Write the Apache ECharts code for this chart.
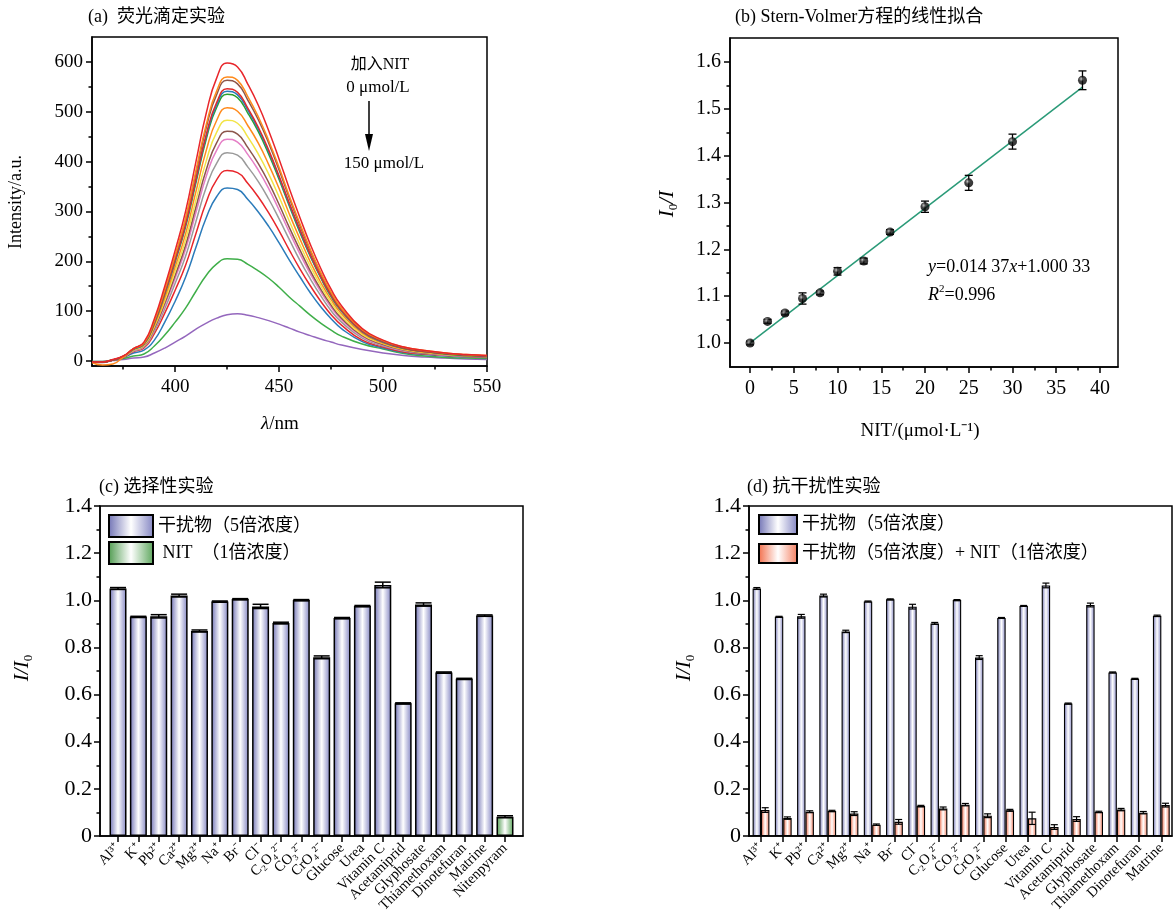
<!DOCTYPE html>
<html><head><meta charset="utf-8">
<script src="https://cdn.jsdelivr.net/npm/echarts@6/dist/echarts.min.js"></script>
<style>html,body{margin:0;padding:0;background:#fff}#c{width:1173px;height:911px}</style>
</head><body><div id="c"></div>
<script>
// ---------- Data ----------
const wavelengths = [360,365,370,375,380,385,390,395,400,405,410,415,420,425,430,435,440,445,450,455,460,465,470,475,480,490,500,510,520,530,540,550];
const spec01 = [-2,-2,3,10,25,38,85,150,222,300,400,498,568,598,590,555,513,462,405,345,288,234,186,144,111,65,42,28,21,16,13,11];
const spec02 = [-3,-8,-6,8,25,36,81,143,212,286,382,475,542,570,563,530,490,442,388,330,276,224,178,138,106,63,41,28,21,16,13,11];
const spec03 = [-2,-3,2,9,25,36,80,141,209,283,377,469,535,563,556,523,484,437,383,326,272,221,176,136,105,62,40,27,20,15,12,10];
const spec04 = [-2,-2,2,9,25,35,78,137,203,274,365,455,519,546,539,507,469,423,371,316,264,214,170,132,102,60,39,26,19,15,12,10];
const spec05 = [-2,-2,2,9,24,34,77,136,201,272,362,451,514,541,534,503,465,420,368,313,261,212,169,131,101,59,38,26,19,15,12,10];
const spec06 = [-2,-2,2,9,24,34,76,134,199,269,358,446,509,535,528,497,460,415,364,310,258,210,167,129,100,59,38,25,19,14,11,9];
const spec07 = [-2,-2,2,9,23,33,72,127,189,255,340,423,483,508,501,472,437,394,346,294,245,199,158,123,95,56,36,24,18,14,11,9];
const spec08 = [-2,-2,2,8,22,31,69,121,180,243,323,402,459,483,477,449,415,375,329,280,233,190,151,117,90,53,35,23,17,13,11,9];
const spec09 = [-2,-2,2,8,22,30,66,116,172,232,309,384,438,461,455,428,396,358,314,267,223,181,144,112,86,51,33,22,16,13,10,8];
const spec10 = [-2,-2,2,8,21,29,64,112,166,224,298,371,423,445,439,414,383,346,303,258,215,175,139,108,83,49,32,21,16,12,10,8];
const spec11 = [-2,-2,2,8,20,28,60,105,156,210,280,349,397,418,413,389,360,325,285,243,202,165,131,101,78,46,30,20,15,12,9,8];
const spec12 = [-2,-2,2,7,19,26,55,96,142,192,256,319,364,382,378,356,329,297,261,222,185,151,120,93,72,42,28,18,14,11,9,7];
const spec13 = [-2,-2,2,7,16,22,42,78,120,168,228,288,330,347,344,324,299,270,237,202,169,137,109,85,65,39,26,17,13,10,8,7];
const spec14 = [-1,-1,2,5,10,14,30,52,78,106,140,172,195,205,204,194,181,166,148,128,110,92,76,62,50,34,24,15,10,7,6,5];
const spec15 = [-1,-1,1,3,6,8,16,26,38,50,64,76,86,93,95,92,87,81,74,66,58,51,44,38,32,23,16,11,8,6,4,3];
const spectra = [spec01,spec02,spec03,spec04,spec05,spec06,spec07,spec08,spec09,spec10,spec11,spec12,spec13,spec14,spec15];
const curveColors = ['#e8262b','#ff8a1c','#8c564b','#e02a2a','#2b7bba','#2ca02c','#ff8a1c','#f2e447','#8c564b','#e57fc6','#9a9a9a','#e8262b','#2b7bba','#3fae49','#9467bd'];

const svX   = [0,2,4,6,8,10,13,16,20,25,30,38];
const svY   = [1.000,1.046,1.064,1.095,1.107,1.153,1.175,1.237,1.291,1.342,1.430,1.561];
const svErr = [0.004,0.004,0.004,0.012,0.004,0.008,0.006,0.005,0.012,0.016,0.016,0.020];
const fitLine = [[0,1.0003],[38,1.5464]];

const catsC = ['Al³⁺','K⁺','Pb²⁺','Ca²⁺','Mg²⁺','Na⁺','Br⁻','Cl⁻','C₂O₄²⁻','CO₃²⁻','CrO₄²⁻','Glucose','Urea','Vitamin C','Acetamiprid','Glyphosate','Thiamethoxam','Dinotefuran','Matrine','Nitenpyram'];
const valsC = [1.050,0.930,0.932,1.020,0.870,0.995,1.005,0.974,0.904,1.001,0.758,0.925,0.976,1.065,0.563,0.982,0.694,0.667,0.935];
const errC  = [0.004,0.002,0.007,0.006,0.004,0.002,0.002,0.009,0.003,0.002,0.006,0.002,0.002,0.012,0.002,0.007,0.002,0.002,0.003];
const nitC = 0.082, nitErrC = 0.004;

const catsD = ['Al³⁺','K⁺','Pb²⁺','Ca²⁺','Mg²⁺','Na⁺','Br⁻','Cl⁻','C₂O₄²⁻','CO₃²⁻','CrO₄²⁻','Glucose','Urea','Vitamin C','Acetamiprid','Glyphosate','Thiamethoxam','Dinotefuran','Matrine'];
const valsD  = [1.050,0.930,0.932,1.020,0.868,0.995,1.004,0.973,0.902,1.001,0.757,0.925,0.976,1.063,0.562,0.980,0.694,0.667,0.934];
const errD   = [0.004,0.002,0.008,0.006,0.005,0.002,0.002,0.010,0.004,0.002,0.008,0.002,0.002,0.010,0.002,0.008,0.002,0.002,0.003];
const valsD2 = [0.110,0.076,0.103,0.106,0.095,0.048,0.060,0.127,0.117,0.133,0.086,0.109,0.075,0.038,0.072,0.102,0.112,0.099,0.131];
const errD2  = [0.010,0.005,0.004,0.003,0.008,0.003,0.010,0.003,0.006,0.005,0.008,0.004,0.026,0.010,0.010,0.003,0.005,0.005,0.008];

const yTicksA = [0,100,200,300,400,500,600];
const yMinorA = [50,150,250,350,450,550];
const xTicksA = [400,450,500,550];
const xMinorA = [375,425,475,525];
const xTicksB = [0,5,10,15,20,25,30,35,40];
const xMinorB = [2.5,7.5,12.5,17.5,22.5,27.5,32.5,37.5];
const yTicksB = [1.0,1.1,1.2,1.3,1.4,1.5,1.6];
const yMinorB = [1.05,1.15,1.25,1.35,1.45,1.55];

// ---------- Styles ----------
const SERIF = "'Liberation Serif','Times New Roman','Noto Sans CJK SC',serif";
const grad = (a,b) => ({type:'linear',x:0,y:0,x2:1,y2:0,colorStops:[{offset:0,color:a},{offset:0.5,color:'#ffffff'},{offset:1,color:b}]});
const blueG = grad('#7072b4','#8284c2');
const greenG = grad('#4e9a4e','#5aa55a');
const orangeG = grad('#f26c48','#f47d5e');
const axLine = {show:true, onZero:false, lineStyle:{color:'#000',width:1.5}};
const tickStyle = {color:'#000',width:1.5};

function valAxis(gi, min, max, ticks, minor, opts) {
  opts = opts || {};
  return [{
    type:'value', gridIndex:gi, min:min, max:max, position:opts.pos, scale:true,
    axisLine:axLine, splitLine:{show:false},
    axisTick:{show:true, customValues:ticks, length:6, lineStyle:tickStyle},
    axisLabel:{show:true, customValues:ticks, color:'#000', fontFamily:SERIF, fontSize:opts.fs||19, margin:opts.margin||8, formatter:opts.fmt,
      showMinLabel:true, showMaxLabel:true, hideOverlap:false}
  },{
    type:'value', gridIndex:gi, min:min, max:max, position:opts.pos, scale:true,
    axisLine:{show:false, onZero:false}, splitLine:{show:false},
    axisTick:{show:true, customValues:minor, length:3.5, lineStyle:tickStyle},
    axisLabel:{show:false}
  }];
}

function errRender(capHalf, dx, lw) {
  return function(params, api) {
    const x = api.value(0), y = api.value(1), e = api.value(2);
    const t = api.coord([x, y + e]), b = api.coord([x, y - e]);
    const cx = t[0] + dx;
    const st = {stroke:'#000', lineWidth:lw};
    return {type:'group', children:[
      {type:'line', shape:{x1:cx,y1:t[1],x2:cx,y2:b[1]}, style:st},
      {type:'line', shape:{x1:cx-capHalf,y1:t[1],x2:cx+capHalf,y2:t[1]}, style:st},
      {type:'line', shape:{x1:cx-capHalf,y1:b[1],x2:cx+capHalf,y2:b[1]}, style:st}
    ]};
  };
}

const gridBox = {show:true, borderColor:'#000', borderWidth:1.5, containLabel:false, outerBoundsMode:'none'};
const fmt1 = v => v === 0 ? '0' : v.toFixed(1);

const xA = valAxis(0, 360, 550, xTicksA, xMinorA, {pos:'bottom', fs:19, margin:12});
const yA = valAxis(0, -10, 650, yTicksA, yMinorA, {pos:'left', fs:19, margin:9});
const xB = valAxis(1, -2.29, 42.06, xTicksB, xMinorB, {pos:'bottom', fs:20, margin:12});
const yB = valAxis(1, 0.9487, 1.6513, yTicksB, yMinorB, {pos:'left', fs:20, margin:9, fmt:v=>v.toFixed(1)});

const idxC = catsC.map((c,i)=>i);
const idxD = catsD.map((c,i)=>i);
function catAxis(gi, min, max, idx, cats) {
  return {type:'value', gridIndex:gi, min:min, max:max, position:'bottom',
    axisLine:axLine, splitLine:{show:false},
    axisTick:{show:true, customValues:idx, length:6, lineStyle:tickStyle},
    axisLabel:{show:true, customValues:idx, rotate:45, fontSize:14.5, fontFamily:SERIF, color:'#000', margin:10,
      showMinLabel:true, showMaxLabel:true, hideOverlap:false,
      formatter:v=>cats[Math.round(v)]}};
}
function barY(gi) {
  return {type:'value', gridIndex:gi, min:0, max:1.4, interval:0.2, position:'left',
    axisLine:axLine, splitLine:{show:false},
    axisTick:{show:true, length:6, lineStyle:tickStyle},
    minorTick:{show:true, splitNumber:2, length:3.5, lineStyle:tickStyle},
    axisLabel:{fontSize:22, fontFamily:SERIF, color:'#000', margin:8, formatter:fmt1, showMinLabel:true, showMaxLabel:true}};
}

const series = [];
spectra.forEach((arr, k) => {
  series.push({type:'line', xAxisIndex:0, yAxisIndex:0, smooth:true, showSymbol:false, silent:true,
    data: wavelengths.map((w,i)=>[w, arr[i]]),
    lineStyle:{color:curveColors[k], width:1.5}, itemStyle:{color:curveColors[k]}, z:20-k});
});
// (b)
series.push({type:'line', xAxisIndex:2, yAxisIndex:2, data:fitLine, showSymbol:false, lineStyle:{color:'#2a9a78', width:1.5}, z:3});
series.push({type:'custom', xAxisIndex:2, yAxisIndex:2, renderItem:errRender(4, 0, 1.3),
  data: svX.map((x,i)=>[x, svY[i], svErr[i]]), encode:{x:0,y:1}, z:4});
series.push({type:'scatter', xAxisIndex:2, yAxisIndex:2, symbolSize:9,
  data: svX.map((x,i)=>[x, svY[i]]),
  itemStyle:{color:{type:'radial',x:0.38,y:0.35,r:0.7,colorStops:[{offset:0,color:'#b8b8b8'},{offset:0.4,color:'#111'},{offset:1,color:'#000'}]}}, z:5});
// (c)
series.push({type:'bar', name:'干扰物（5倍浓度）', xAxisIndex:4, yAxisIndex:4, barWidth:17, barGap:'-100%',
  data: valsC.map((v,i)=>[i, v]), itemStyle:{color:blueG, borderColor:'#000', borderWidth:1.5}});
series.push({type:'bar', name:' NIT  （1倍浓度）', xAxisIndex:4, yAxisIndex:4, barWidth:17, barGap:'-100%',
  data: [[catsC.length-1, nitC]], itemStyle:{color:greenG, borderColor:'#000', borderWidth:1.5}});
series.push({type:'custom', xAxisIndex:4, yAxisIndex:4, renderItem:errRender(8, 0, 1.5),
  data: valsC.map((v,i)=>[i, v, errC[i]]).concat([[catsC.length-1, nitC, nitErrC]]), encode:{x:0,y:1}, z:5});
// (d)
series.push({type:'bar', name:'干扰物（5倍浓度） ', xAxisIndex:5, yAxisIndex:5, barWidth:8.4, barGap:'0%',
  data: valsD.map((v,i)=>[i, v]), itemStyle:{color:blueG, borderColor:'#000', borderWidth:1.1}});
series.push({type:'bar', name:'干扰物（5倍浓度）+ NIT（1倍浓度）', xAxisIndex:5, yAxisIndex:5, barWidth:8.4, barGap:'0%',
  data: valsD2.map((v,i)=>[i, v]), itemStyle:{color:orangeG, borderColor:'#000', borderWidth:1.1}});
series.push({type:'custom', xAxisIndex:5, yAxisIndex:5, renderItem:errRender(3.5, -4.2, 1.2),
  data: valsD.map((v,i)=>[i, v, errD[i]]), encode:{x:0,y:1}, z:5});
series.push({type:'custom', xAxisIndex:5, yAxisIndex:5, renderItem:errRender(3.5, 4.2, 1.2),
  data: valsD2.map((v,i)=>[i, v, errD2[i]]), encode:{x:0,y:1}, z:5});

const txt = (x, y, text, o) => Object.assign({type:'text', x:x, y:y, silent:true, z:100,
  style:Object.assign({text:text, fill:'#000', fontFamily:SERIF, fontSize:18, align:'left', verticalAlign:'middle'}, (o&&o.style)||{})},
  o && o.rotation ? {rotation:o.rotation} : {});
const it = {fontStyle:'italic', fontFamily:SERIF};

const option = {
  animation:false,
  backgroundColor:'#fff',
  grid:[
    Object.assign({left:92, top:37, width:395, height:329}, gridBox),
    Object.assign({left:730, top:38, width:388, height:329}, gridBox),
    Object.assign({left:100, top:506, width:423, height:330}, gridBox),
    Object.assign({left:749, top:506, width:423, height:330}, gridBox)
  ],
  xAxis:[xA[0], xA[1], xB[0], xB[1], catAxis(2, -0.884, 19.884, idxC, catsC), catAxis(3, -0.54, 18.48, idxD, catsD)],
  yAxis:[yA[0], yA[1], yB[0], yB[1], barY(2), barY(3)],
  legend:[
    {left:103, top:509, orient:'vertical', itemWidth:44, itemHeight:22, itemGap:3, icon:'rect',
      data:['干扰物（5倍浓度）',' NIT  （1倍浓度）'], selectedMode:false,
      itemStyle:{borderColor:'#000', borderWidth:2},
      textStyle:{fontSize:18, fontFamily:SERIF, color:'#000'}},
    {left:753, top:509, orient:'vertical', itemWidth:38, itemHeight:19, itemGap:8, icon:'rect',
      data:['干扰物（5倍浓度） ','干扰物（5倍浓度）+ NIT（1倍浓度）'], selectedMode:false,
      itemStyle:{borderColor:'#000', borderWidth:2},
      textStyle:{fontSize:18, fontFamily:SERIF, color:'#000'}}
  ],
  series:series,
  graphic:[
    txt(88, 17, '(a)  荧光滴定实验', {style:{fontSize:18}}),
    txt(735, 17, '(b) Stern-Volmer方程的线性拟合', {style:{fontSize:18}}),
    txt(99, 487, '(c) 选择性实验', {style:{fontSize:18}}),
    txt(747, 487, '(d) 抗干扰性实验', {style:{fontSize:18}}),
    txt(16, 202, 'Intensity/a.u.', {rotation:Math.PI/2, style:{fontSize:18, align:'center'}}),
    txt(280, 424, '{i|λ}/nm', {style:{fontSize:19, align:'center', rich:{i:Object.assign({fontSize:19},it)}}}),
    txt(920, 431, 'NIT/(μmol·L⁻¹)', {style:{fontSize:19, align:'center'}}),
    txt(667, 204, '{i|I}{s|0}{i|/I}', {rotation:Math.PI/2, style:{fontSize:21, align:'center',
      rich:{i:Object.assign({fontSize:21, lineHeight:26},it), s:{fontSize:13, fontFamily:SERIF, verticalAlign:'bottom', lineHeight:16}}}}),
    txt(22, 668, '{i|I/I}{s|0}', {rotation:Math.PI/2, style:{fontSize:21, align:'center',
      rich:{i:Object.assign({fontSize:21, lineHeight:26},it), s:{fontSize:13, fontFamily:SERIF, verticalAlign:'bottom', lineHeight:16}}}}),
    txt(684, 668, '{i|I/I}{s|0}', {rotation:Math.PI/2, style:{fontSize:21, align:'center',
      rich:{i:Object.assign({fontSize:21, lineHeight:26},it), s:{fontSize:13, fontFamily:SERIF, verticalAlign:'bottom', lineHeight:16}}}}),
    txt(928, 267, '{i|y}=0.014 37{i|x}+1.000 33', {style:{fontSize:18, rich:{i:Object.assign({fontSize:18},it)}}}),
    txt(928, 295, '{i|R}{p|2}=0.996', {style:{fontSize:18, rich:{i:Object.assign({fontSize:18, lineHeight:22},it), p:{fontSize:11, fontFamily:SERIF, verticalAlign:'top', lineHeight:22}}}}),
    txt(380, 65, '加入NIT', {style:{fontSize:16, align:'center'}}),
    txt(378, 88, '0 μmol/L', {style:{fontSize:17, align:'center'}}),
    txt(384, 164, '150 μmol/L', {style:{fontSize:17, align:'center'}}),
    {type:'line', z:100, shape:{x1:369,y1:101,x2:369,y2:140}, style:{stroke:'#000', lineWidth:1.5}},
    {type:'polygon', z:100, shape:{points:[[365,134],[373,134],[369,151]]}, style:{fill:'#000'}}
  ]
};
const chart = echarts.init(document.getElementById('c'), null, {renderer:'canvas'});
chart.setOption(option);
</script></body></html>
